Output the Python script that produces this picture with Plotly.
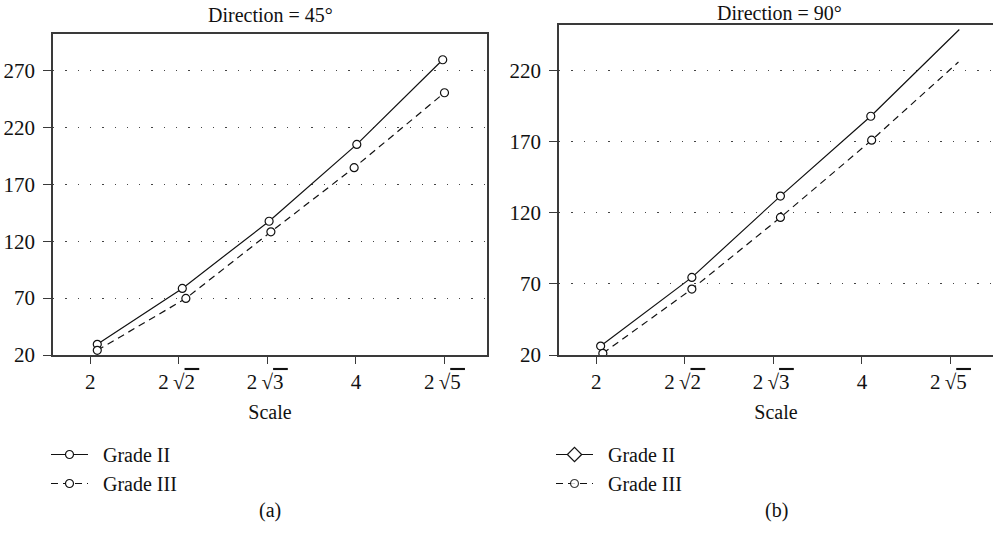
import plotly.graph_objects as go

# ---- data ----
tick_labels = ["2",
               "2\u2009\u221a<span style='text-decoration:overline'>2\u2009</span>",
               "2\u2009\u221a<span style='text-decoration:overline'>3\u2009</span>",
               "4",
               "2\u2009\u221a<span style='text-decoration:overline'>5\u2009</span>"]
tick_pos = [0, 1, 2, 3, 4]

# Panel (a): Direction = 45°
a_x_grade2 = [0.08, 1.04, 2.02, 3.01, 3.98]
a_y_grade2 = [29.4, 78.5, 137.5, 205.0, 279.4]
a_x_grade3 = [0.08, 1.08, 2.04, 2.98, 4.00]
a_y_grade3 = [24.1, 69.7, 128.2, 184.6, 250.4]

# Panel (b): Direction = 90°
b_x_grade2 = [0.05, 1.08, 2.08, 3.10, 4.10]
b_y_grade2 = [26.3, 74.5, 131.6, 187.7, 248.6]
b_x_grade3 = [0.075, 1.08, 2.08, 3.11, 4.09]
b_y_grade3 = [21.2, 66.3, 116.6, 170.9, 225.8]

y_ticks_a = [20, 70, 120, 170, 220, 270]
y_ticks_b = [20, 70, 120, 170, 220]

FONT = "Liberation Serif"
FS = 20
INK = "#111111"
AX = "#3a3a3a"

marker_circle = dict(symbol="circle", size=8, color="white", line=dict(color=INK, width=1.2))

fig = go.Figure()

# Panel (a)
fig.add_trace(go.Scatter(x=a_x_grade2, y=a_y_grade2, mode="lines+markers", name="\u2002Grade II",
                         line=dict(color=INK, width=1.2), marker=marker_circle,
                         xaxis="x", yaxis="y", legend="legend", legendgroup="a2"))
fig.add_trace(go.Scatter(x=a_x_grade3, y=a_y_grade3, mode="lines+markers", name="\u2002Grade III",
                         line=dict(color=INK, width=1.2, dash="7px,5px"), marker=marker_circle,
                         xaxis="x", yaxis="y", legend="legend", legendgroup="a3"))

# Panel (b) - last points carry no marker
op_b = [1, 1, 1, 1, 0]
fig.add_trace(go.Scatter(x=b_x_grade2, y=b_y_grade2, mode="lines+markers", name="Grade II",
                         line=dict(color=INK, width=1.2),
                         marker=dict(symbol="circle", size=8, color="white", opacity=op_b,
                                     line=dict(color=INK, width=1.2)),
                         xaxis="x2", yaxis="y2", showlegend=False))
fig.add_trace(go.Scatter(x=[None], y=[None], mode="lines+markers", name="\u2002Grade II",
                         line=dict(color=INK, width=1.2),
                         marker=dict(symbol="diamond", size=11, color="white", line=dict(color=INK, width=1.2)),
                         xaxis="x2", yaxis="y2", legend="legend2", legendgroup="b2"))
fig.add_trace(go.Scatter(x=b_x_grade3, y=b_y_grade3, mode="lines+markers", name="\u2002Grade III",
                         line=dict(color=INK, width=1.2, dash="7px,5px"),
                         marker=dict(symbol="circle", size=8, color="white", opacity=op_b,
                                     line=dict(color=INK, width=1.2)),
                         xaxis="x2", yaxis="y2", legend="legend2", legendgroup="b3"))

common_x = dict(tickvals=tick_pos, ticktext=tick_labels, range=[-0.42, 4.48],
                showline=True, linecolor=AX, linewidth=1.5, mirror=True, automargin=False,
                ticks="outside", ticklen=7, tickwidth=1.2, tickcolor=AX,
                showgrid=False, zeroline=False,
                tickfont=dict(family=FONT, size=21, color=INK),
                title=dict(text="Scale", font=dict(family=FONT, size=FS, color=INK), standoff=12))
common_y = dict(showline=True, linecolor=AX, linewidth=1.5, mirror=True, automargin=False,
                ticks="outside", ticklen=8, tickwidth=1.2, tickcolor=AX, ticklabelstandoff=4,
                showgrid=True, gridcolor="#444444", gridwidth=1.3, griddash="1.3px,11px",
                zeroline=False, tickfont=dict(family=FONT, size=21, color=INK))

fig.update_layout(
    width=993, height=539, autosize=False,
    margin=dict(l=0, r=0, t=0, b=0),
    paper_bgcolor="white", plot_bgcolor="white",
    font=dict(family=FONT, size=FS, color=INK),
    xaxis=dict(domain=[53/993, 487/993], anchor="y", **common_x),
    yaxis=dict(domain=[1-355/539, 1-34/539], anchor="x", range=[20, 302], tickvals=y_ticks_a, **common_y),
    xaxis2=dict(domain=[559/993, 1.0], anchor="y2", **common_x),
    yaxis2=dict(domain=[1-355/539, 1-24.7/539], anchor="x2", range=[20, 252], tickvals=y_ticks_b, **common_y),
    legend=dict(x=46/993, y=1-435/539, xanchor="left", yanchor="top",
                font=dict(family=FONT, size=FS, color=INK), bgcolor="rgba(0,0,0,0)",
                traceorder="grouped", tracegroupgap=0, itemwidth=37),
    legend2=dict(x=551/993, y=1-435/539, xanchor="left", yanchor="top",
                 font=dict(family=FONT, size=FS, color=INK), bgcolor="rgba(0,0,0,0)",
                 traceorder="grouped", tracegroupgap=0, itemwidth=37),
    annotations=[
        dict(text="Direction = 45\u00b0", x=270/993, y=1-15/539, xref="paper", yref="paper",
             xanchor="center", yanchor="middle", showarrow=False, font=dict(family=FONT, size=FS, color=INK)),
        dict(text="Direction = 90\u00b0", x=779/993, y=1.0, xref="paper", yref="paper",
             xanchor="center", yanchor="top", showarrow=False, font=dict(family=FONT, size=FS, color=INK)),
        dict(text="(a)", x=270/993, y=1-510/539, xref="paper", yref="paper",
             xanchor="center", yanchor="middle", showarrow=False, font=dict(family=FONT, size=FS, color=INK)),
        dict(text="(b)", x=776/993, y=1-510/539, xref="paper", yref="paper",
             xanchor="center", yanchor="middle", showarrow=False, font=dict(family=FONT, size=FS, color=INK)),
    ],
)

fig.write_html("out.html", config={"displayModeBar": False},
               post_script="document.body.style.margin='0px';document.body.style.overflow='hidden';")
